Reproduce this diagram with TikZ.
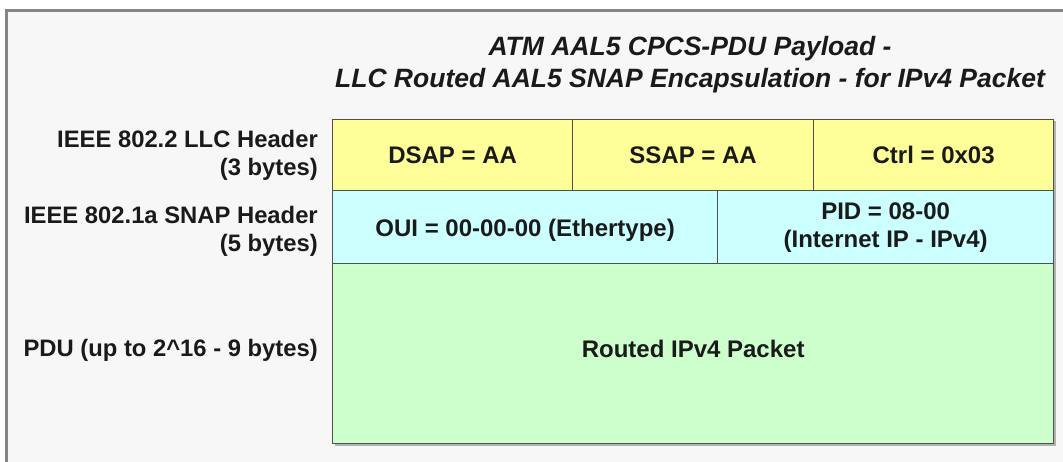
\documentclass[tikz,border=0pt]{standalone}
\usepackage{fontspec}
\usetikzlibrary{calc}
\setmainfont{Liberation Sans}
\definecolor{bgc}{HTML}{F7F7F7}
\definecolor{framec}{HTML}{858585}
\definecolor{llcc}{HTML}{FFFF99}
\definecolor{snapc}{HTML}{CCFFFF}
\definecolor{pduc}{HTML}{CCFFCC}
\definecolor{edgec}{HTML}{505050}
\definecolor{txtc}{HTML}{1A1A1A}
\tikzset{
  cell/.style={draw=edgec, line width=1.3pt, anchor=north west, inner sep=0pt},
  ctext/.style={inner sep=0pt, align=center, text=txtc, font=\bfseries\fontsize{24}{28}\selectfont},
  lbl/.style={anchor=east, align=right, inner sep=0pt, text=txtc,
    font=\bfseries\fontsize{23.8}{28}\selectfont},
  ttl/.style={align=center, inner sep=0pt, text=txtc,
    font=\bfseries\itshape\fontsize{26.5}{32}\selectfont}
}
\begin{document}
\begin{tikzpicture}[x=1pt,y=-1pt]
\useasboundingbox (0,0) rectangle (1063,462);
\fill[white] (0,0) rectangle (1063,462);
\fill[bgc] (6.7,10.5) rectangle (1063,462);
\draw[framec, line width=3pt] (6.7,462) -- (6.7,10.5) -- (1063,10.5);
% title
\node[ttl] (title) at (690,64.5) {ATM AAL5 CPCS-PDU Payload -\\LLC Routed AAL5 SNAP Encapsulation - for IPv4 Packet};
% shadow
\fill[gray!60] (334.5,121.5) rectangle (1055.5,445.5);
% cells
\node[cell, fill=llcc, minimum width=240pt, minimum height=71pt] (dsap) at (332,119) {};
\node[cell, fill=llcc, minimum width=241pt, minimum height=71pt] (ssap) at (572,119) {};
\node[cell, fill=llcc, minimum width=240pt, minimum height=71pt] (ctrl) at (813,119) {};
\node[cell, fill=snapc, minimum width=385pt, minimum height=73pt] (oui) at (332,190) {};
\node[cell, fill=snapc, minimum width=336pt, minimum height=73pt] (pid) at (717,190) {};
\node[cell, fill=pduc, minimum width=721pt, minimum height=180pt] (pdu) at (332,263) {};
% cell texts
\node[ctext] (tdsap) at (dsap.center) {DSAP = AA};
\node[ctext] (tssap) at (ssap.center) {SSAP = AA};
\node[ctext] (tctrl) at (ctrl.center) {Ctrl = 0x03};
\node[ctext] (toui) at ($(oui.center)+(0,3)$) {OUI = 00-00-00 (Ethertype)};
\node[ctext] (tpid) at ($(pid.center)+(0,0.5)$) {PID = 08-00\\(Internet IP - IPv4)};
\node[ctext] (tpdu) at ($(pdu.center)+(0,-5)$) {Routed IPv4 Packet};
% labels
\node[lbl] (l1) at (318,155) {IEEE 802.2 LLC Header\\(3 bytes)};
\node[lbl] (l2) at (318,231) {IEEE 802.1a SNAP Header\\(5 bytes)};
\node[lbl] (l3) at (318,350) {PDU (up to 2\textasciicircum16 - 9 bytes)};
\end{tikzpicture}
\end{document}
